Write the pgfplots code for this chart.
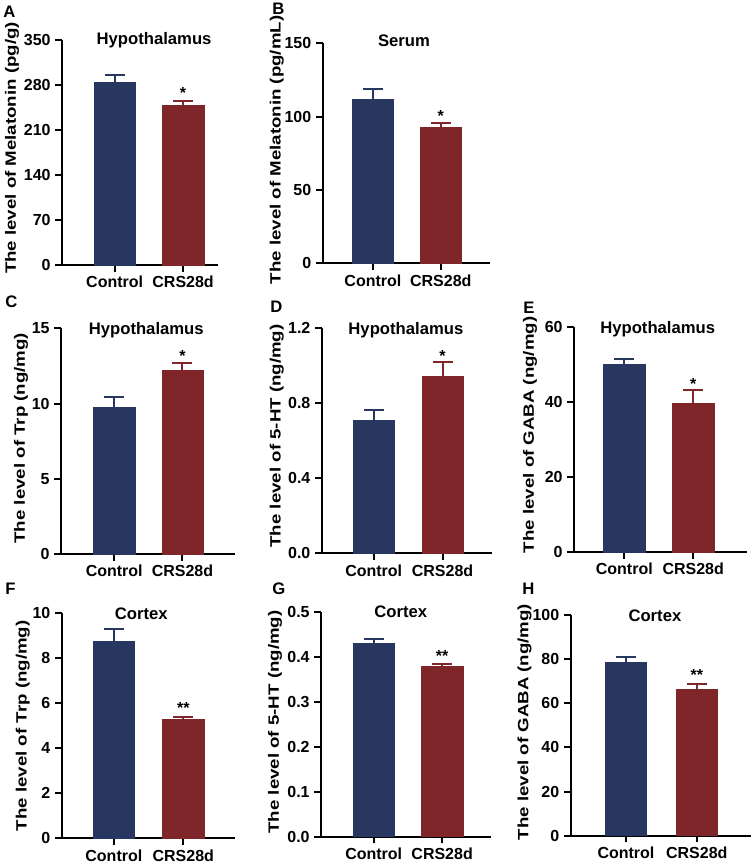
\documentclass[border=0pt]{standalone}
\usepackage{fontspec}
\setmainfont{Liberation Sans}
\usepackage{graphicx}
\usepackage{pgfplots}
\pgfplotsset{compat=1.18}
\definecolor{cblue}{HTML}{27375F}
\definecolor{cred}{HTML}{7F262A}
\newcommand{\ylab}[1]{\scalebox{1}[0.8]{#1}}
\pgfplotsset{
  panel/.style={
    scale only axis, anchor=south west, ybar, bar width=31pt, bar shift=0pt,
    axis x line*=bottom, axis y line*=left,
    axis line style={line width=1.5pt,-},
    every tick/.style={line width=1.5pt,black},
    major tick length=5pt, tick align=outside,
    xtick={0,1}, xticklabels={Control,CRS28d}, ymin=0,
    ticklabel style={font=\fontsize{12}{12}\selectfont\bfseries},
    xticklabel style={text depth=0pt},
    /pgf/number format/assume math mode=true,
    title style={font=\fontsize{12.5}{13}\selectfont\bfseries, anchor=base, inner sep=0pt, yshift=-6pt},
    ylabel style={font=\fontsize{14}{14}\selectfont\bfseries, anchor=center, inner sep=0pt},
    clip=false,
  },
  ctrl/.style={fill=cblue, draw=cblue,
    error bars/.cd, y dir=plus, y explicit, error mark=|,
    error bar style={line width=1.5pt,cblue},
    error mark options={line width=1.5pt,cblue,mark size=7.5pt}},
  crs/.style={fill=cred, draw=cred,
    error bars/.cd, y dir=plus, y explicit, error mark=|,
    error bar style={line width=1.5pt,cred},
    error mark options={line width=1.5pt,cred,mark size=7.5pt}},
}
\tikzset{star/.style={anchor=north, inner sep=0pt, font=\fontsize{12}{12}\selectfont\bfseries}}
\begin{document}
\begin{tikzpicture}
\path[use as bounding box] (0,0) rectangle (563.25pt,648.75pt);
% A
\begin{axis}[panel, at={(46.5pt,450pt)}, width=117pt, height=168.75pt,
  xmin=-0.77, xmax=1.51, ymax=350, ytick={0,70,140,210,280,350},
  title={Hypothalamus}, title style={at={(axis description cs:0.59,1)}, yshift=-3.75pt},
  ylabel={\ylab{The level of Melatonin (pg/g)}}, ylabel style={at={(axis description cs:-0.3205,0.52)}}]
\addplot[ctrl] coordinates {(0,285) +- (0,10)};
\addplot[crs] coordinates {(1,248) +- (0,7)};
\node[star] at (axis cs:1,276.9) {*};
\end{axis}
% B
\begin{axis}[panel, at={(242pt,451.3pt)}, width=125.25pt, height=165pt,
  xmin=-0.74, xmax=1.72, ymax=150, ytick={0,50,100,150},
  title={Serum}, title style={at={(axis description cs:0.487,1)}, yshift=-2.8pt},
  ylabel={\ylab{The level of Melatonin (pg/mL)}}, ylabel style={at={(axis description cs:-0.2754,0.515)}}]
\addplot[ctrl] coordinates {(0,111.8) +- (0,6.8)};
\addplot[crs] coordinates {(1,92.7) +- (0,3.2)};
\node[star] at (axis cs:1,104.5) {*};
\end{axis}
% C
\begin{axis}[panel, at={(45.75pt,233.25pt)}, width=130.5pt, height=169.3pt,
  xmin=-0.78, xmax=1.77, ymax=15, ytick={0,5,10,15},
  title={Hypothalamus}, title style={at={(axis description cs:0.49,1)}, yshift=-5pt},
  ylabel={\ylab{The level of Trp (ng/mg)}}, ylabel style={at={(axis description cs:-0.2299,0.513)}}]
\addplot[ctrl] coordinates {(0,9.72) +- (0,0.69)};
\addplot[crs] coordinates {(1,12.18) +- (0,0.53)};
\node[star] at (axis cs:1,13.56) {*};
\end{axis}
% D
\begin{axis}[panel, at={(241.3pt,233.8pt)}, width=127.5pt, height=169.2pt,
  xmin=-0.755, xmax=1.715, ymax=1.2, ytick={0,0.4,0.8,1.2},
  yticklabel style={/pgf/number format/.cd, fixed, fixed zerofill, precision=1},
  title={Hypothalamus}, title style={at={(axis description cs:0.495,1)}, yshift=-5.5pt},
  ylabel={\ylab{The level of 5-HT (ng/mg)}}, ylabel style={at={(axis description cs:-0.2647,0.52)}}]
\addplot[ctrl] coordinates {(0,0.709) +- (0,0.055)};
\addplot[crs] coordinates {(1,0.941) +- (0,0.075)};
\node[star] at (axis cs:1,1.081) {*};
\end{axis}
% E
\begin{axis}[panel, at={(430.5pt,234.75pt)}, width=129.75pt, height=169pt,
  xmin=-0.73, xmax=1.78, ymax=60, ytick={0,20,40,60},
  title={Hypothalamus}, title style={at={(axis description cs:0.484,1)}, yshift=-5pt},
  ylabel={\ylab{The level of GABA (ng/mg)}}, ylabel style={at={(axis description cs:-0.2543,0.52)}}]
\addplot[ctrl] coordinates {(0,50.1) +- (0,1.2)};
\addplot[crs] coordinates {(1,39.6) +- (0,3.5)};
\node[star] at (axis cs:1,46.4) {*};
\end{axis}
% F
\begin{axis}[panel, at={(46.3pt,20pt)}, width=129.75pt, height=168.75pt,
  xmin=-0.75, xmax=1.74, ymax=10, ytick={0,2,4,6,8,10},
  title={Cortex}, title style={at={(axis description cs:0.46,1)}, yshift=-4.5pt},
  ylabel={\ylab{The level of Trp (ng/mg)}}, ylabel style={at={(axis description cs:-0.2254,0.5)}}]
\addplot[ctrl] coordinates {(0,8.78) +- (0,0.52)};
\addplot[crs] coordinates {(1,5.29) +- (0,0.11)};
\node[star] at (axis cs:1,6.03) {**};
\end{axis}
% G
\begin{axis}[panel, at={(240.75pt,21.2pt)}, width=127.3pt, height=168.75pt,
  xmin=-0.77, xmax=1.71, ymax=0.5, ytick={0,0.1,0.2,0.3,0.4,0.5},
  yticklabel style={/pgf/number format/.cd, fixed, fixed zerofill, precision=1},
  title={Cortex}, title style={at={(axis description cs:0.47,1)}, yshift=-4.5pt},
  ylabel={\ylab{The level of 5-HT (ng/mg)}}, ylabel style={at={(axis description cs:-0.271,0.51)}}]
\addplot[ctrl] coordinates {(0,0.431) +- (0,0.008)};
\addplot[crs] coordinates {(1,0.378) +- (0,0.006)};
\node[star] at (axis cs:1,0.415) {**};
\end{axis}
% H
\begin{axis}[panel, at={(428pt,22pt)}, width=135pt, height=165.5pt,
  xmin=-0.78, xmax=1.76, ymax=100, ytick={0,20,40,60,80,100},
  title={Cortex}, title style={at={(axis description cs:0.468,1)}, yshift=-4.5pt},
  ylabel={\ylab{The level of GABA (ng/mg)}}, ylabel style={at={(axis description cs:-0.2556,0.515)}}]
\addplot[ctrl] coordinates {(0,78.6) +- (0,2.3)};
\addplot[crs] coordinates {(1,66.3) +- (0,2.4)};
\node[star] at (axis cs:1,75.4) {**};
\end{axis}
% panel letters
\begin{scope}[every node/.style={anchor=base west, inner sep=0pt, font=\fontsize{12.5}{13}\selectfont\bfseries}]
\node at (2.25pt,635.25pt) {A};
\node at (204pt,637.5pt) {B};
\node at (3.75pt,417.75pt) {C};
\node at (202.5pt,414.2pt) {D};
\node at (392.25pt,413.25pt) {E};
\node at (3.75pt,202.5pt) {F};
\node at (204pt,202.5pt) {G};
\node at (391.5pt,202.5pt) {H};
\end{scope}
\end{tikzpicture}
\end{document}
